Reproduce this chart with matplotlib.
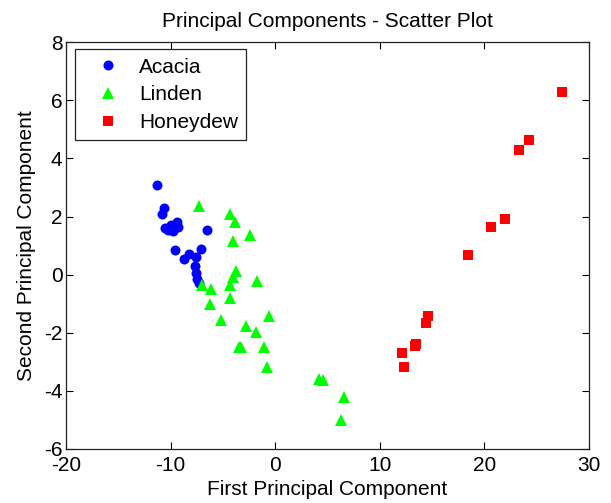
import matplotlib
matplotlib.use("Agg")
import matplotlib.pyplot as plt

# first / second principal component scores
acacia_x = [-11.3, -10.6, -10.8, -10.5, -10.0, -9.35, -9.75, -9.25, -10.2, -6.5,
            -9.6, -8.7, -8.25, -7.1, -7.6, -7.65, -7.6, -7.45, -7.25]
acacia_y = [3.1, 2.3, 2.1, 1.6, 1.7, 1.8, 1.5, 1.65, 1.55, 1.55,
            0.85, 0.55, 0.7, 0.88, 0.6, 0.3, 0.05, -0.15, -0.3]

linden_x = [-7.25, -4.3, -3.85, -2.45, -4.05, -3.7, -4.0, -4.3, -1.75, -7.0,
            -6.15, -4.3, -6.25, -0.6, -5.2, -2.75, -1.85, -3.25, -3.5, -1.05,
            -0.8, 4.2, 4.55, 6.6, 6.25]
linden_y = [2.35, 2.1, 1.8, 1.35, 1.15, 0.12, -0.08, -0.35, -0.22, -0.36,
            -0.5, -0.8, -1.02, -1.42, -1.55, -1.75, -1.97, -2.5, -2.5, -2.5,
            -3.18, -3.6, -3.62, -4.22, -5.0]

honeydew_x = [27.45, 24.3, 23.3, 22.0, 20.6, 18.45, 14.6, 14.4, 13.5, 13.35, 12.1, 12.35]
honeydew_y = [6.28, 4.65, 4.28, 1.91, 1.63, 0.68, -1.43, -1.68, -2.37, -2.46, -2.69, -3.18]

x_ticks = [-20, -10, 0, 10, 20, 30]
y_ticks = [-6, -4, -2, 0, 2, 4, 6, 8]

plt.rcParams["font.family"] = ["Liberation Sans", "DejaVu Sans"]
plt.rcParams["axes.unicode_minus"] = False

fig = plt.figure(figsize=(6.11, 5.03), dpi=100)
ax = fig.add_axes([0.108, 0.1074, 0.856, 0.8085])

ax.plot(acacia_x, acacia_y, "o", color="#0000ff", ms=7.2, mew=0, label="Acacia")
ax.plot(linden_x, linden_y, "^", color="#00ff00", ms=9, mew=0, label="Linden")
ax.plot(honeydew_x, honeydew_y, "s", color="#ff0000", ms=7.5, mew=0, label="Honeydew")

ax.set_xlim(-20, 30)
ax.set_ylim(-6, 8)
ax.set_xticks(x_ticks)
ax.set_yticks(y_ticks)
ax.tick_params(direction="in", length=5, width=0.8, top=True, right=True,
               labelsize=15, colors="black")
ax.tick_params(axis="x", pad=5)
ax.tick_params(axis="y", pad=2.5)
for sp in ax.spines.values():
    sp.set_linewidth(0.9)
    sp.set_color("#222222")

ax.set_title("Principal Components - Scatter Plot", fontsize=15, pad=11)
ax.set_xlabel("First Principal Component", fontsize=15, labelpad=4)
ax.set_ylabel("Second Principal Component", fontsize=15, labelpad=6)

leg = ax.legend(loc="upper left", bbox_to_anchor=(0.018, 0.983), borderaxespad=0,
                fontsize=15, fancybox=False, framealpha=1, edgecolor="#222222",
                borderpad=0.4, handlelength=2.3, handletextpad=0.35,
                labelspacing=0.42, numpoints=1)
leg.get_frame().set_linewidth(0.9)

fig.savefig("out.png", dpi=100)
